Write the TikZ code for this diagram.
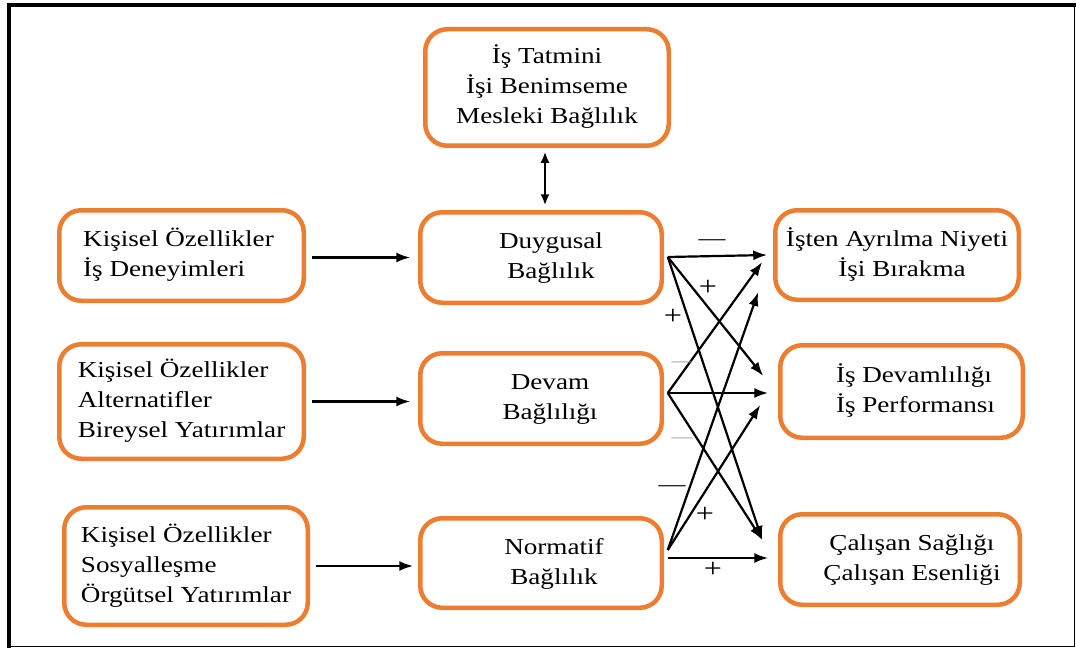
\documentclass[tikz,border=0pt]{standalone}
\usepackage{fontspec}
\setmainfont[FakeStretch=1.19]{Liberation Serif}
\usetikzlibrary{arrows.meta,calc}
\definecolor{orng}{HTML}{ED7D31}
\begin{document}
\begin{tikzpicture}[x=1pt,y=-1pt,
  box/.style={draw=orng, line width=4.5pt, rounded corners=22pt, fill=white,
    inner sep=0pt, outer sep=0pt, font=\fontsize{22.8}{30}\selectfont},
  arr/.style={-{Latex[length=14pt,width=10pt]}, line width=2.2pt, draw=black},
  dbl/.style={{Latex[length=11pt,width=9pt]}-{Latex[length=11pt,width=9pt]}, line width=2pt, draw=black},
  sign/.style={font=\fontsize{22.6}{30}\selectfont, inner sep=0pt, anchor=base},
  plus/.style={font=\fontsize{27}{30}\selectfont, inner sep=0pt, anchor=base},
  gsign/.style={font=\fontsize{17.5}{20}\selectfont, inner sep=0pt, anchor=base, text=black!40},
]
\useasboundingbox (0,0) rectangle (1076,650);
\fill[white] (0,0) rectangle (1076,650);
% frame
\draw[line width=4.5pt] (9,648) -- (9,5) -- (1076,5);
\draw[line width=1.5pt] (9,646.5) -- (1074.5,646.5) -- (1074.5,5);

% boxes
\node[box, minimum width=243.5pt, minimum height=116.5pt] (top) at (547,87.5)
  {\begin{tabular}{@{}c@{}}İş Tatmini\\İşi Benimseme\\Mesleki Bağlılık\end{tabular}};
\node[box, minimum width=244.5pt, minimum height=90.5pt] (l1) at (181.5,255.5)
  {\begin{tabular}{@{}l@{\hspace{6pt}}}Kişisel Özellikler\\İş Deneyimleri\end{tabular}};
\node[box, minimum width=244.5pt, minimum height=114.5pt] (l2) at (181.5,401.5)
  {\begin{tabular}{@{}l@{}}Kişisel Özellikler\\Alternatifler\\Bireysel Yatırımlar\end{tabular}};
\node[box, minimum width=243.5pt, minimum height=117.5pt] (l3) at (186,566)
  {\begin{tabular}{@{}l@{}}Kişisel Özellikler\\Sosyalleşme\\Örgütsel Yatırımlar\end{tabular}};
\node[box, minimum width=241.5pt, minimum height=90.5pt] (m1) at (541,257.5)
  {\begin{tabular}{@{\hspace{20pt}}c@{}}Duygusal\\Bağlılık\end{tabular}};
\node[box, minimum width=241.5pt, minimum height=90.5pt] (m2) at (541,398.5)
  {\begin{tabular}{@{\hspace{18pt}}c@{}}Devam\\Bağlılığı\end{tabular}};
\node[box, minimum width=241.5pt, minimum height=89.5pt] (m3) at (541,563)
  {\begin{tabular}{@{\hspace{26pt}}c@{}}Normatif\\Bağlılık\end{tabular}};
\node[box, minimum width=243.5pt, minimum height=89.5pt] (r1) at (897,255)
  {\begin{tabular}{@{}c@{}}İşten Ayrılma Niyeti\\\hspace*{10pt}İşi Bırakma\end{tabular}};
\node[box, minimum width=242.5pt, minimum height=92.5pt] (r2) at (901.5,391.5)
  {\begin{tabular}{@{\hspace{28pt}}l@{}}İş Devamlılığı\\İş Performansı\end{tabular}};
\node[box, minimum width=239.5pt, minimum height=90.5pt] (r3) at (900,559.5)
  {\begin{tabular}{@{\hspace{24pt}}c@{}}Çalışan Sağlığı\\Çalışan Esenliği\end{tabular}};

% connectors
\draw[dbl, shorten <=6pt, shorten >=7pt] ([xshift=-2pt]top.south) -- ([xshift=-2pt]top.south |- m1.north);
\draw[arr, shorten <=8pt, shorten >=10pt] (l1.east |- m1.west) -- (m1.west);
\draw[arr, shorten <=8pt, shorten >=10pt] (l2.east) -- (l2.east -| m2.west);
\draw[arr, shorten <=8pt, shorten >=7pt] (l3.east) -- (l3.east -| m3.west);

% from Duygusal
\draw[arr] ($(m1.east)+(6,-0.5)$) -- ($(r1.west)+(-8,0)$);
\draw[arr] ($(m1.east)+(6,-0.5)$) -- ($(r2.west)+(-17,-15.5)$);
\draw[arr] ($(m1.east)+(6,-0.5)$) -- ($(r3.west)+(-18,-19.5)$);
% from Devam
\draw[arr] ($(m2.east)+(6,-5.5)$) -- ($(r1.west)+(-13,7)$);
\draw[arr] ($(m2.east)+(6,-5.5)$) -- ($(r2.west)+(-12,1.5)$);
\draw[arr] ($(m2.east)+(6,-5.5)$) -- ($(r3.west)+(-18,-19.5)$);
% from Normatif
\draw[arr] ($(m3.east)+(6,-13)$) -- ($(r1.west)+(-17,37)$);
\draw[arr] ($(m3.east)+(6,-13)$) -- ($(r2.west)+(-20,13.5)$);
\draw[arr] ($(m3.east)+(6,-5)$) -- ($(r3.west)+(-12,-1.5)$);

% signs
\node[sign] (s1) at (712,245) {—};
\node[plus] (s2) at (708,295) {+};
\node[plus] (s3) at (673,324) {+};
\node[gsign] (g1) at (682,366) {—};
\node[gsign] (g2) at (682,442) {—};
\node[sign] (s4) at (672,491) {—};
\node[plus] (s5) at (705,522) {+};
\node[plus] (s6) at (713,577) {+};
\end{tikzpicture}
\end{document}
